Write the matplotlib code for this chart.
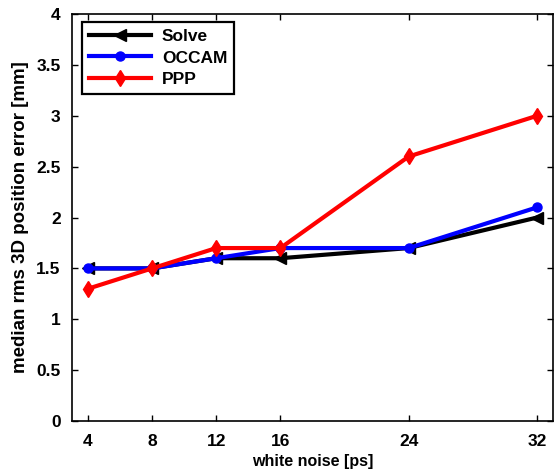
import matplotlib
matplotlib.use('Agg')
import matplotlib.pyplot as plt

# Data
noise = [4, 8, 12, 16, 24, 32]
solve = [1.5, 1.5, 1.6, 1.6, 1.7, 2.0]
occam = [1.5, 1.5, 1.6, 1.7, 1.7, 2.1]
ppp = [1.3, 1.5, 1.7, 1.7, 2.6, 3.0]
yticks = [0, 0.5, 1, 1.5, 2, 2.5, 3, 3.5, 4]

plt.rcParams['font.family'] = ['Liberation Sans', 'DejaVu Sans']
plt.rcParams['font.weight'] = 'bold'
plt.rcParams['font.size'] = 12

fig = plt.figure(figsize=(5.57, 4.76), dpi=100)
ax = fig.add_axes([0.129, 0.1155, 0.864, 0.855])

ax.plot(noise, solve, color='black', lw=3, marker='<', ms=8, label='Solve')
ax.plot(noise, occam, color='blue', lw=3, marker='o', ms=6.5, label='OCCAM')
ax.plot(noise, ppp, color='red', lw=3, marker='d', ms=8, label='PPP')

ax.set_xlim(3, 33)
ax.set_ylim(0, 4)
ax.set_xticks(noise)
ax.set_yticks(yticks)
ax.set_yticklabels(['0', '0.5', '1', '1.5', '2', '2.5', '3', '3.5', '4'])
ax.tick_params(direction='in', top=True, right=True, length=4, width=1, labelsize=12.5)
ax.tick_params(axis='x', pad=9)
ax.tick_params(axis='y', pad=8)
for s in ax.spines.values():
    s.set_linewidth(1.2)

ax.set_xlabel('white noise [ps]', fontweight='bold', fontsize=11.5, labelpad=4)
ax.set_ylabel('median rms 3D position error [mm]', fontweight='bold', fontsize=13.5, labelpad=5)

leg = ax.legend(loc='upper left', bbox_to_anchor=(0.021, 0.98), borderaxespad=0,
                fancybox=False, edgecolor='black', framealpha=1, handlelength=3.6,
                borderpad=0.4, labelspacing=0.35, handletextpad=0.6,
                prop={'weight': 'bold', 'size': 12.5})
leg.get_frame().set_linewidth(1.6)

fig.savefig('out.png', dpi=100)
